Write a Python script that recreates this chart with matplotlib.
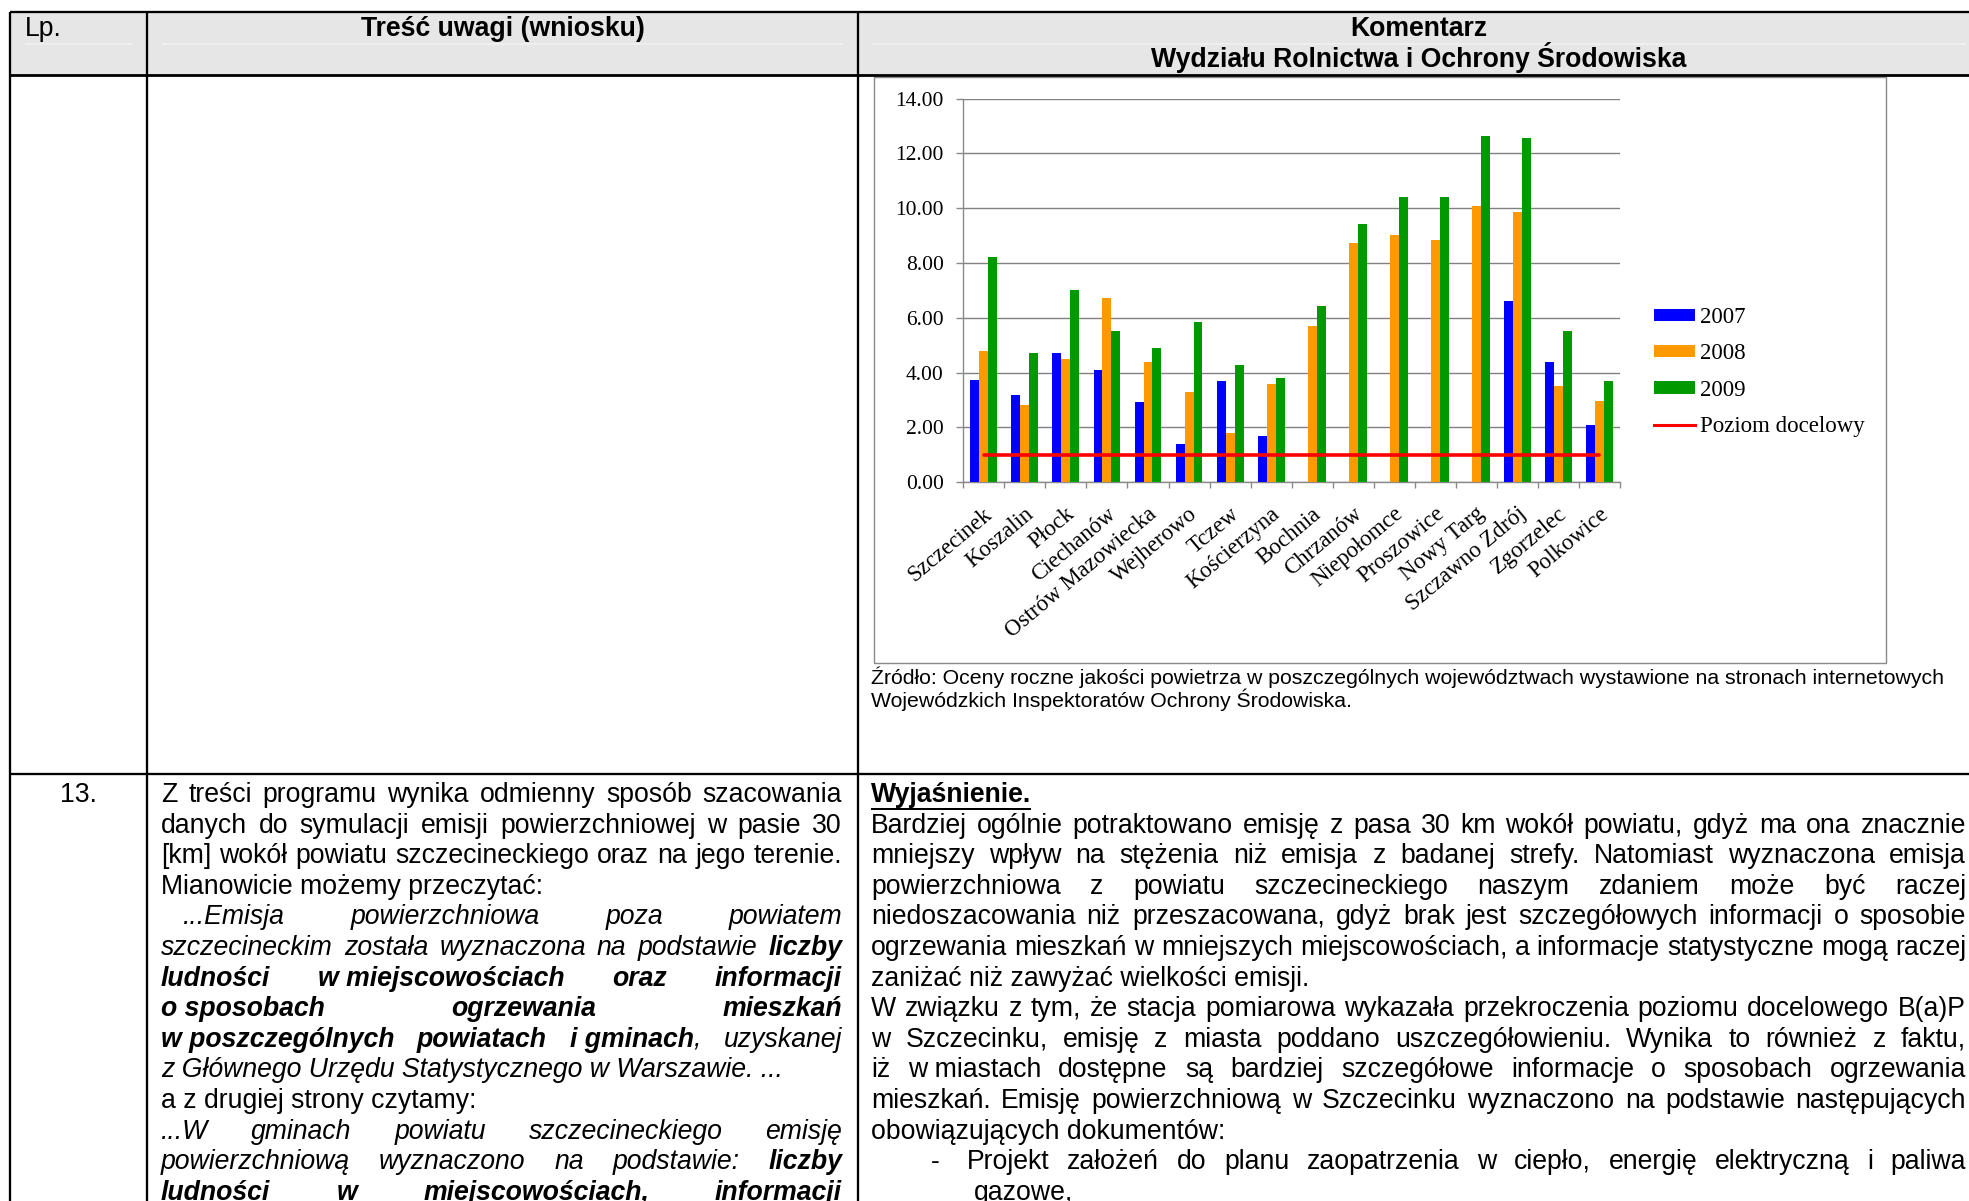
import matplotlib
matplotlib.use("Agg")
import numpy as np
import matplotlib.pyplot as plt
from matplotlib.patches import Rectangle, Patch
from matplotlib.lines import Line2D
from matplotlib.ticker import FormatStrFormatter
from matplotlib.transforms import ScaledTranslation

W, H = 1969, 1201

# B(a)P annual means per town (ng/m3)
towns = ["Szczecinek", "Koszalin", "Płock", "Ciechanów", "Ostrów Mazowiecka",
         "Wejherowo", "Tczew", "Kościerzyna", "Bochnia", "Chrzanów",
         "Niepołomce", "Proszowice", "Nowy Targ", "Szczawno Zdrój",
         "Zgorzelec", "Polkowice"]
nan = np.nan
v2007 = [3.74, 3.18, 4.71, 4.10, 2.93, 1.40, 3.69, 1.69, nan, nan, nan, nan,
         nan, 6.61, 4.39, 2.09]
v2008 = [4.79, 2.82, 4.50, 6.72, 4.39, 3.29, 1.80, 3.58, 5.70, 8.73, 9.02,
         8.83, 10.07, 9.86, 3.51, 2.97]
v2009 = [8.21, 4.71, 7.01, 5.52, 4.90, 5.85, 4.28, 3.80, 6.43, 9.42, 10.40,
         10.40, 12.63, 12.55, 5.52, 3.69]
target_level = 1.0
year_labels = ["2007", "2008", "2009"]
target_label = "Poziom docelowy"
y_ticks = [0, 2, 4, 6, 8, 10, 12, 14]

BODY = 19.15   # pt, table text
SRC = 15.3     # pt, source note
SANS = "Liberation Sans"
SERIF = "Liberation Serif"

FONTS = {
    "r": dict(family=SANS),
    "i": dict(family=SANS, style="italic"),
    "b": dict(family=SANS, weight="bold"),
    "bi": dict(family=SANS, style="italic", weight="bold"),
}

fig = plt.figure(figsize=(W / 100, H / 100), dpi=100)
fig.patch.set_facecolor("white")

# page layer in pixel units, y downwards
page = fig.add_axes([0, 0, 1, 1])
page.set_xlim(0, W)
page.set_ylim(H, 0)
page.axis("off")

renderer = fig.canvas.get_renderer()


def text_width(s, style, size):
    t = page.text(0, 0, s, fontsize=size, **FONTS[style])
    w = t.get_window_extent(renderer).width
    t.remove()
    return w


def split_words(segments):
    words = []
    open_word = False
    for text, style in segments:
        for k, part in enumerate(text.split(" ")):
            if k > 0:
                open_word = False
            if part == "":
                continue
            if open_word:
                words[-1].append((part, style))
            else:
                words.append([(part, style)])
                open_word = True
    return words


def set_line(segments, x0, x1, y, justify=True, size=BODY):
    if isinstance(segments, str):
        segments = [(segments, "r")]
    if not justify:
        x = x0
        for text, st in segments:
            page.text(x, y, text, fontsize=size, ha="left", va="baseline", **FONTS[st])
            x += text_width(text, st, size)
        return x
    words = split_words(segments)
    widths = [[text_width(f, st, size) for f, st in w] for w in words]
    total = sum(sum(ws) for ws in widths)
    gap = (x1 - x0 - total) / max(len(words) - 1, 1)
    x = x0
    for w, ws in zip(words, widths):
        for (frag, st), fw in zip(w, ws):
            page.text(x, y, frag, fontsize=size, ha="left", va="baseline",
                      **FONTS[st])
            x += fw
        x += gap
    return x - gap


# ---- table frame ----
X_LEFT, X_C1, X_C2, X_RIGHT = 10, 147, 858, 1980
Y_TOP, Y_HEAD, Y_ROW = 12, 74.5, 774
page.add_patch(Rectangle((X_LEFT, Y_TOP), X_RIGHT - X_LEFT, Y_HEAD - Y_TOP,
                         facecolor="#e6e6e6", edgecolor="none", zorder=0))
page.hlines(43.5, 25, 132, color="#f1f1f1", lw=1.2, zorder=1)
page.hlines(43.5, 162, 843, color="#f1f1f1", lw=1.2, zorder=1)
page.hlines(43.5, 872, 1966, color="#f1f1f1", lw=1.2, zorder=1)

lw_px = 0.72
page.hlines([Y_TOP, Y_ROW], X_LEFT, X_RIGHT, color="black", lw=2.3 * lw_px, zorder=2)
page.hlines(Y_HEAD, X_LEFT, X_RIGHT, color="black", lw=2.8 * lw_px, zorder=2)
page.vlines([X_LEFT, X_C1, X_C2], Y_TOP, H + 5, color="black", lw=2.3 * lw_px, zorder=2)

# header
page.text(25, 36, "Lp.", fontsize=BODY, ha="left", va="baseline", **FONTS["r"])
page.text((X_C1 + X_C2) / 2, 36, "Treść uwagi (wniosku)", fontsize=BODY,
          ha="center", va="baseline", **FONTS["b"])
page.text(1419, 36, "Komentarz", fontsize=BODY, ha="center", va="baseline", **FONTS["b"])
page.text(1419, 66.6, "Wydziału Rolnictwa i Ochrony Środowiska", fontsize=BODY,
          ha="center", va="baseline", **FONTS["b"])

# chart box and source note
page.add_patch(Rectangle((874, 77), 1886 - 874, 663 - 77, facecolor="white",
                         edgecolor="#8a8a8a", lw=1.4 * lw_px, zorder=1))
set_line("Źródło: Oceny roczne jakości powietrza w poszczególnych województwach "
         "wystawione na stronach internetowych", 871, 1966, 683.5, justify=False, size=SRC)
set_line("Wojewódzkich Inspektoratów Ochrony Środowiska.", 871, 1966, 707,
         justify=False, size=SRC)

# ---- row 13 ----
LINE = 30.6
BASE = 802
page.text(78, BASE, "13.", fontsize=BODY, ha="center", va="baseline", **FONTS["r"])

left_lines = [
    ("Z treści programu wynika odmienny sposób szacowania", True, 161),
    ("danych do symulacji emisji powierzchniowej w pasie 30", True, 161),
    ("[km] wokół powiatu szczecineckiego oraz na jego terenie.", True, 161),
    ("Mianowicie możemy przeczytać:", False, 161),
    ([("...Emisja powierzchniowa poza powiatem", "i")], True, 183),
    ([("szczecineckim została wyznaczona na podstawie ", "i"), ("liczby", "bi")], True, 161),
    ([("ludności w\u00a0miejscowościach oraz informacji", "bi")], True, 161),
    ([("o\u00a0sposobach ogrzewania mieszkań", "bi")], True, 161),
    ([("w\u00a0poszczególnych powiatach i\u00a0gminach", "bi"), (", uzyskanej", "i")], True, 161),
    ([("z Głównego Urzędu Statystycznego w Warszawie. ...", "i")], False, 161),
    ("a z drugiej strony czytamy:", False, 161),
    ([("...W gminach powiatu szczecineckiego emisję", "i")], True, 161),
    ([("powierzchniową wyznaczono na podstawie: ", "i"), ("liczby", "bi")], True, 161),
    ([("ludności w miejscowościach, informacji", "bi")], True, 161),
]
for k, (segs, just, x0) in enumerate(left_lines):
    set_line(segs, x0, 842, BASE + k * LINE, justify=just)

right_lines = [
    ("Bardziej ogólnie potraktowano emisję z pasa 30 km wokół powiatu, gdyż ma ona znacznie", True),
    ("mniejszy wpływ na stężenia niż emisja z badanej strefy. Natomiast wyznaczona emisja", True),
    ("powierzchniowa z powiatu szczecineckiego naszym zdaniem może być raczej", True),
    ("niedoszacowania niż przeszacowana, gdyż brak jest szczegółowych informacji o sposobie", True),
    ("ogrzewania mieszkań w mniejszych miejscowościach, a informacje statystyczne mogą raczej", True),
    ("zaniżać niż zawyżać wielkości emisji.", False),
    ("W związku z tym, że stacja pomiarowa wykazała przekroczenia poziomu docelowego B(a)P", True),
    ("w Szczecinku, emisję z miasta poddano uszczegółowieniu. Wynika to również z faktu,", True),
    ("iż w\u00a0miastach dostępne są bardziej szczegółowe informacje o sposobach ogrzewania", True),
    ("mieszkań. Emisję powierzchniową w Szczecinku wyznaczono na podstawie następujących", True),
    ("obowiązujących dokumentów:", False),
]
x_end = set_line([("Wyjaśnienie.", "b")], 871, 1966, BASE, justify=False)
page.hlines(BASE + 6.5, 871, x_end, color="black", lw=2.0 * lw_px)
for k, (txt, just) in enumerate(right_lines, start=1):
    set_line(txt, 871, 1966, BASE + k * LINE, justify=just)
page.text(931, BASE + 12 * LINE, "-", fontsize=BODY, ha="left", va="baseline", **FONTS["r"])
set_line("Projekt założeń do planu zaopatrzenia w ciepło, energię elektryczną i paliwa",
         967, 1966, BASE + 12 * LINE, justify=True)
set_line("gazowe,", 974, 1966, BASE + 13 * LINE, justify=False)

# ---- bar chart ----
ax_l, ax_r, ax_t, ax_b = 963.3, 1620, 98.5, 482.3
ax = fig.add_axes([ax_l / W, 1 - ax_b / H, (ax_r - ax_l) / W, (ax_b - ax_t) / H])
ax.patch.set_visible(False)
x = np.arange(len(towns))
bw = 0.218
colors = ["#0000ff", "#ff9900", "#009900"]
for off, vals, col, lab in zip((-bw, 0, bw), (v2007, v2008, v2009), colors, year_labels):
    ax.bar(x + off, vals, bw, color=col, label=lab, zorder=3)
ax.plot(x, np.full(len(towns), target_level), color="#ff0000", lw=2.6,
        solid_capstyle="round", zorder=4, label=target_label)

ax.set_xlim(-0.5, len(towns) - 0.5)
ax.set_ylim(0, 14)
ax.set_yticks(y_ticks)
ax.yaxis.set_major_formatter(FormatStrFormatter("%.2f"))
ax.yaxis.grid(True, color="#808080", lw=1.0)
ax.set_axisbelow(True)
for side in ("top", "right"):
    ax.spines[side].set_visible(False)
for side in ("left", "bottom"):
    ax.spines[side].set_color("#8a8a8a")
    ax.spines[side].set_linewidth(1.0)

ax.tick_params(axis="y", length=5, width=1, color="#8a8a8a", pad=9,
               labelsize=15.5)
for t in ax.get_yticklabels():
    t.set_fontfamily(SERIF)

ax.set_xticks(x, towns)
ax.set_xticks(np.arange(-0.5, len(towns)), minor=True)
ax.tick_params(axis="x", which="major", length=0, pad=21)
ax.tick_params(axis="x", which="minor", length=4.5, width=1, color="#8a8a8a")
shift = ScaledTranslation(6 / 100, 0, fig.dpi_scale_trans)
for t in ax.get_xticklabels():
    t.set_fontfamily(SERIF)
    t.set_fontsize(16.5)
    t.set_rotation(40)
    t.set_ha("right")
    t.set_va("center")
    t.set_rotation_mode("anchor")
    t.set_transform(t.get_transform() + shift)

handles = [Patch(facecolor=c, edgecolor="none") for c in colors]
handles.append(Line2D([], [], color="#ff0000", lw=2.2))
ax.legend(handles, year_labels + [target_label], loc="center left",
          bbox_to_anchor=(1654 / W, 1 - 372 / H), bbox_transform=fig.transFigure,
          frameon=False, prop=dict(family=SERIF, size=16.5), handlelength=1.8,
          handleheight=0.45, handletextpad=0.2, labelspacing=0.66,
          borderpad=0, borderaxespad=0)

fig.savefig("out.png", dpi=100, facecolor="white")
